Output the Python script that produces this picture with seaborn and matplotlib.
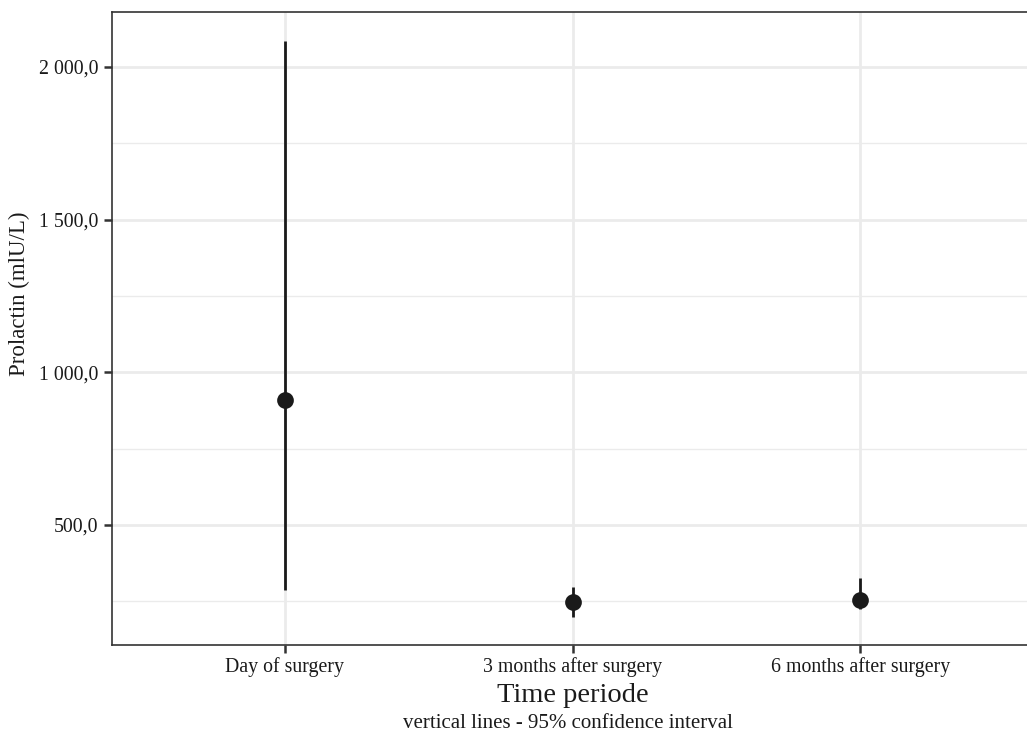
import matplotlib
matplotlib.use("Agg")
import matplotlib.pyplot as plt
import matplotlib.ticker as mticker
import seaborn as sns
import pandas as pd

# Data
categories = ["Day of surgery", "3 months after surgery", "6 months after surgery"]
means = [908, 248, 254]
ci_low = [287, 199, 225]
ci_high = [2085, 297, 326]
y_major = [500, 1000, 1500, 2000]
y_minor = [250, 750, 1250, 1750]

df = pd.DataFrame({"period": categories, "prolactin": means})

sns.set_theme(style="white")
plt.rcParams["font.family"] = ["Liberation Serif", "DejaVu Serif"]

fig = plt.figure(figsize=(10.27, 7.32), dpi=100)
W, H = 1027, 732
left, right, top, bottom = 112, 1033, 12, 645
ax = fig.add_axes([left / W, (H - bottom) / H, (right - left) / W, (bottom - top) / H])

# CI lines
ax.vlines(x=range(len(categories)), ymin=ci_low, ymax=ci_high, color="#1a1a1a", linewidth=2.0, zorder=3)

sns.pointplot(data=df, x="period", y="prolactin", order=categories, errorbar=None,
              linestyle="none", color="#1a1a1a", markersize=10, ax=ax, zorder=4)
ax.set_xlim(-0.6, 2.6)
ax.set_ylim(107, 2180)

# grid
ax.set_yticks(y_major)
ax.set_yticks(y_minor, minor=True)
ax.set_axisbelow(True)
ax.grid(True, which="major", axis="x", color="#EBEBEB", linewidth=2.0, zorder=0)
ax.grid(True, which="major", axis="y", color="#EBEBEB", linewidth=2.0, zorder=0)
ax.grid(True, which="minor", axis="y", color="#EBEBEB", linewidth=1.0, zorder=0)

def fmt(v, pos):
    return f"{v:,.1f}".replace(",", " ").replace(".", ",")

ax.yaxis.set_major_formatter(mticker.FuncFormatter(fmt))
ax.tick_params(axis="both", which="major", direction="out", length=6, width=1.8,
               color="#333333", labelsize=14.3, labelcolor="#1a1a1a", pad=4,
               bottom=True, left=True)
ax.tick_params(axis="y", which="minor", length=0, left=False)
ax.tick_params(axis="x", pad=3)

for sp in ax.spines.values():
    sp.set_color("#333333")
    sp.set_linewidth(1.2)

ax.set_xlabel("Time periode", fontsize=20.5, color="#1a1a1a", labelpad=4)
ax.set_ylabel("Prolactin (mlU/L)", fontsize=16.5, color="#1a1a1a")
ax.yaxis.set_label_coords((30 - left) / (right - left), (bottom - 294) / (bottom - top))

fig.text(568 / W, 1 - 723 / H, "vertical lines - 95% confidence interval",
         ha="center", va="center", fontsize=15, color="#1a1a1a")

fig.savefig("out.png", dpi=100, facecolor="white")
